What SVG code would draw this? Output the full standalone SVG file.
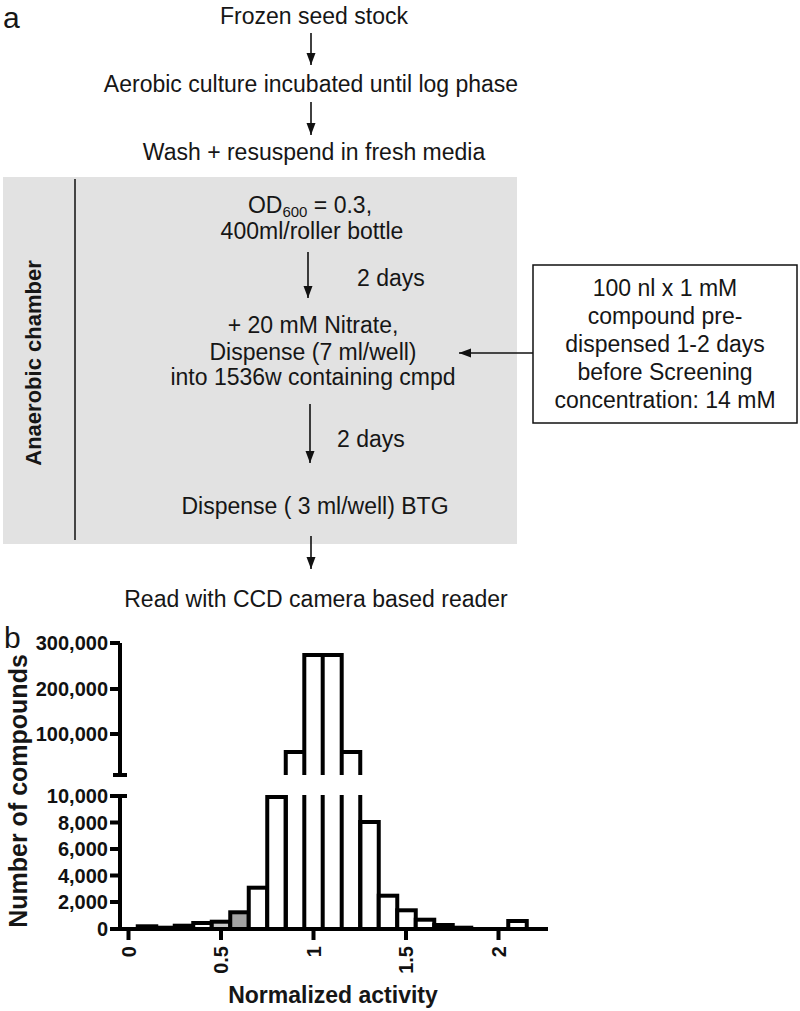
<svg xmlns="http://www.w3.org/2000/svg" width="800" height="1011" viewBox="0 0 800 1011">
<defs>
<style>
.t{font-family:"Liberation Sans",Arial,sans-serif;font-size:23px;fill:#161616;text-anchor:middle}
.tb{font-family:"Liberation Sans",Arial,sans-serif;font-size:23px;fill:#161616;text-anchor:middle}
.lab{font-family:"Liberation Sans",Arial,sans-serif;fill:#161616}
.ax{font-family:"Liberation Sans",Arial,sans-serif;font-size:20px;font-weight:bold;fill:#111}
.conn{stroke:#111;stroke-width:1.6;fill:none}
.bar{fill:#fff;stroke:#000;stroke-width:4}
.axl{stroke:#000;stroke-width:4;fill:none}
</style>
<marker id="ah" markerWidth="12" markerHeight="10" refX="12" refY="5" orient="auto" markerUnits="userSpaceOnUse">
<path d="M0,0.5 L12,5 L0,9.5 z" fill="#111"/>
</marker>
</defs>
<rect width="800" height="1011" fill="#fff"/>

<text class="lab" x="3" y="27.5" font-size="30">a</text>

<g id="chamber">
<rect x="3" y="177" width="514" height="367" fill="#e2e2e2"/>
<line x1="75" y1="179" x2="75" y2="540" stroke="#444" stroke-width="2"/>
<text class="lab" transform="translate(41,363) rotate(-90)" font-size="22" font-weight="bold" text-anchor="middle">Anaerobic chamber</text>
</g>

<g id="n1"><text class="t" x="314" y="24">Frozen seed stock</text></g>
<g id="n2"><text class="t" x="311" y="92">Aerobic culture incubated until log phase</text></g>
<g id="n3"><text class="t" x="314" y="160">Wash + resuspend in fresh media</text></g>
<g id="n4">
<text class="t" x="310" y="213">OD<tspan font-size="15" dy="4">600</tspan><tspan dy="-4"> = 0.3,</tspan></text>
<text class="t" x="312" y="239">400ml/roller bottle</text>
</g>
<g id="n5">
<text class="t" x="313" y="333">+ 20 mM Nitrate,</text>
<text class="t" x="313" y="360">Dispense (7 ml/well)</text>
<text class="t" x="313" y="385">into 1536w containing cmpd</text>
</g>
<g id="n6"><text class="t" x="315" y="514">Dispense ( 3 ml/well) BTG</text></g>
<g id="n7"><text class="t" x="316" y="607">Read with CCD camera based reader</text></g>
<g id="n8">
<rect x="533" y="265" width="264" height="158" fill="#fff" stroke="#111" stroke-width="1.5"/>
<text class="tb" x="665" y="296">100 nl x 1 mM</text>
<text class="tb" x="665" y="324">compound pre-</text>
<text class="tb" x="665" y="352">dispensed 1-2 days</text>
<text class="tb" x="665" y="380">before Screening</text>
<text class="tb" x="665" y="408">concentration: 14 mM</text>
</g>

<g id="connectors">
<line class="conn" x1="311" y1="33" x2="311" y2="65" marker-end="url(#ah)"/>
<line class="conn" x1="311" y1="102" x2="311" y2="135" marker-end="url(#ah)"/>
<line class="conn" x1="308" y1="252" x2="308" y2="298" marker-end="url(#ah)"/>
<text class="lab" x="357" y="286" font-size="23">2 days</text>
<line class="conn" x1="533" y1="353" x2="459" y2="353" marker-end="url(#ah)"/>
<line class="conn" x1="310" y1="404" x2="310" y2="463" marker-end="url(#ah)"/>
<text class="lab" x="337" y="447" font-size="23">2 days</text>
<line class="conn" x1="311" y1="536" x2="311" y2="569" marker-end="url(#ah)"/>
</g>

<text class="lab" x="4" y="648" font-size="30">b</text>

<g id="histogram">
<path class="axl" d="M120,643 V775 M113,775 H127 M110,643 H120 M110,689 H120 M110,734 H120"/>
<path class="axl" d="M110,796 H127 M120,796 V929 M110,822.6 H120 M110,849 H120 M110,875.6 H120 M110,902 H120"/>
<path class="axl" d="M110,929 H548 M128.5,929 V940 M221,929 V940 M313.5,929 V940 M406,929 V940 M498.5,929 V940"/>
<g class="ax" text-anchor="end">
<text x="108" y="650">300,000</text>
<text x="108" y="696">200,000</text>
<text x="108" y="741">100,000</text>
<text x="108" y="803">10,000</text>
<text x="108" y="829.6">8,000</text>
<text x="108" y="856">6,000</text>
<text x="108" y="882.6">4,000</text>
<text x="108" y="909">2,000</text>
<text x="108" y="936">0</text>
</g>
<g class="ax" text-anchor="end">
<text transform="translate(135.5,946) rotate(-90)">0</text>
<text transform="translate(228,946) rotate(-90)">0.5</text>
<text transform="translate(320.5,946) rotate(-90)">1</text>
<text transform="translate(413,946) rotate(-90)">1.5</text>
<text transform="translate(505.5,946) rotate(-90)">2</text>
</g>
<text class="lab" x="333" y="1003" font-size="23" font-weight="bold" text-anchor="middle">Normalized activity</text>
<text class="lab" transform="translate(27,791) rotate(-90)" font-size="25" font-weight="bold" text-anchor="middle">Number of compounds</text>
<rect class="bar" x="137.75" y="926.3" width="18.5" height="2.7"/>
<rect class="bar" x="156.25" y="927.7" width="18.5" height="1.3"/>
<rect class="bar" x="174.75" y="925.7" width="18.5" height="3.3"/>
<rect class="bar" x="193.25" y="923" width="18.5" height="6"/>
<rect class="bar" x="211.75" y="921.7" width="18.5" height="7.3" style="fill:#c8c8c8"/>
<rect class="bar" x="230.25" y="912.3" width="18.5" height="16.7" style="fill:#a3a3a3"/>
<rect class="bar" x="248.75" y="887.7" width="18.5" height="41.3"/>
<rect class="bar" x="267.25" y="797" width="18.5" height="132"/>
<path class="axl" d="M304.3,795 V929 M322.7,795 V929 M341.7,795 V929"/>
<rect class="bar" x="360.25" y="822" width="18.5" height="107"/>
<rect class="bar" x="378.75" y="895.7" width="18.5" height="33.3"/>
<rect class="bar" x="397.25" y="910.3" width="18.5" height="18.7"/>
<rect class="bar" x="415.75" y="919.7" width="18.5" height="9.3"/>
<rect class="bar" x="434.25" y="925" width="18.5" height="4"/>
<rect class="bar" x="452.75" y="927.7" width="18.5" height="1.3"/>
<rect class="bar" x="508.25" y="921" width="18.5" height="8"/>
<path class="axl" d="M285.75,795 V929 M360.25,795 V929"/>
<path class="axl" d="M285.75,775 V752 H304.3 M304.3,775 V655 H341.7 V775 M322.7,775 V655 M341.7,752 H360.25 V775"/>
</g>
</svg>
